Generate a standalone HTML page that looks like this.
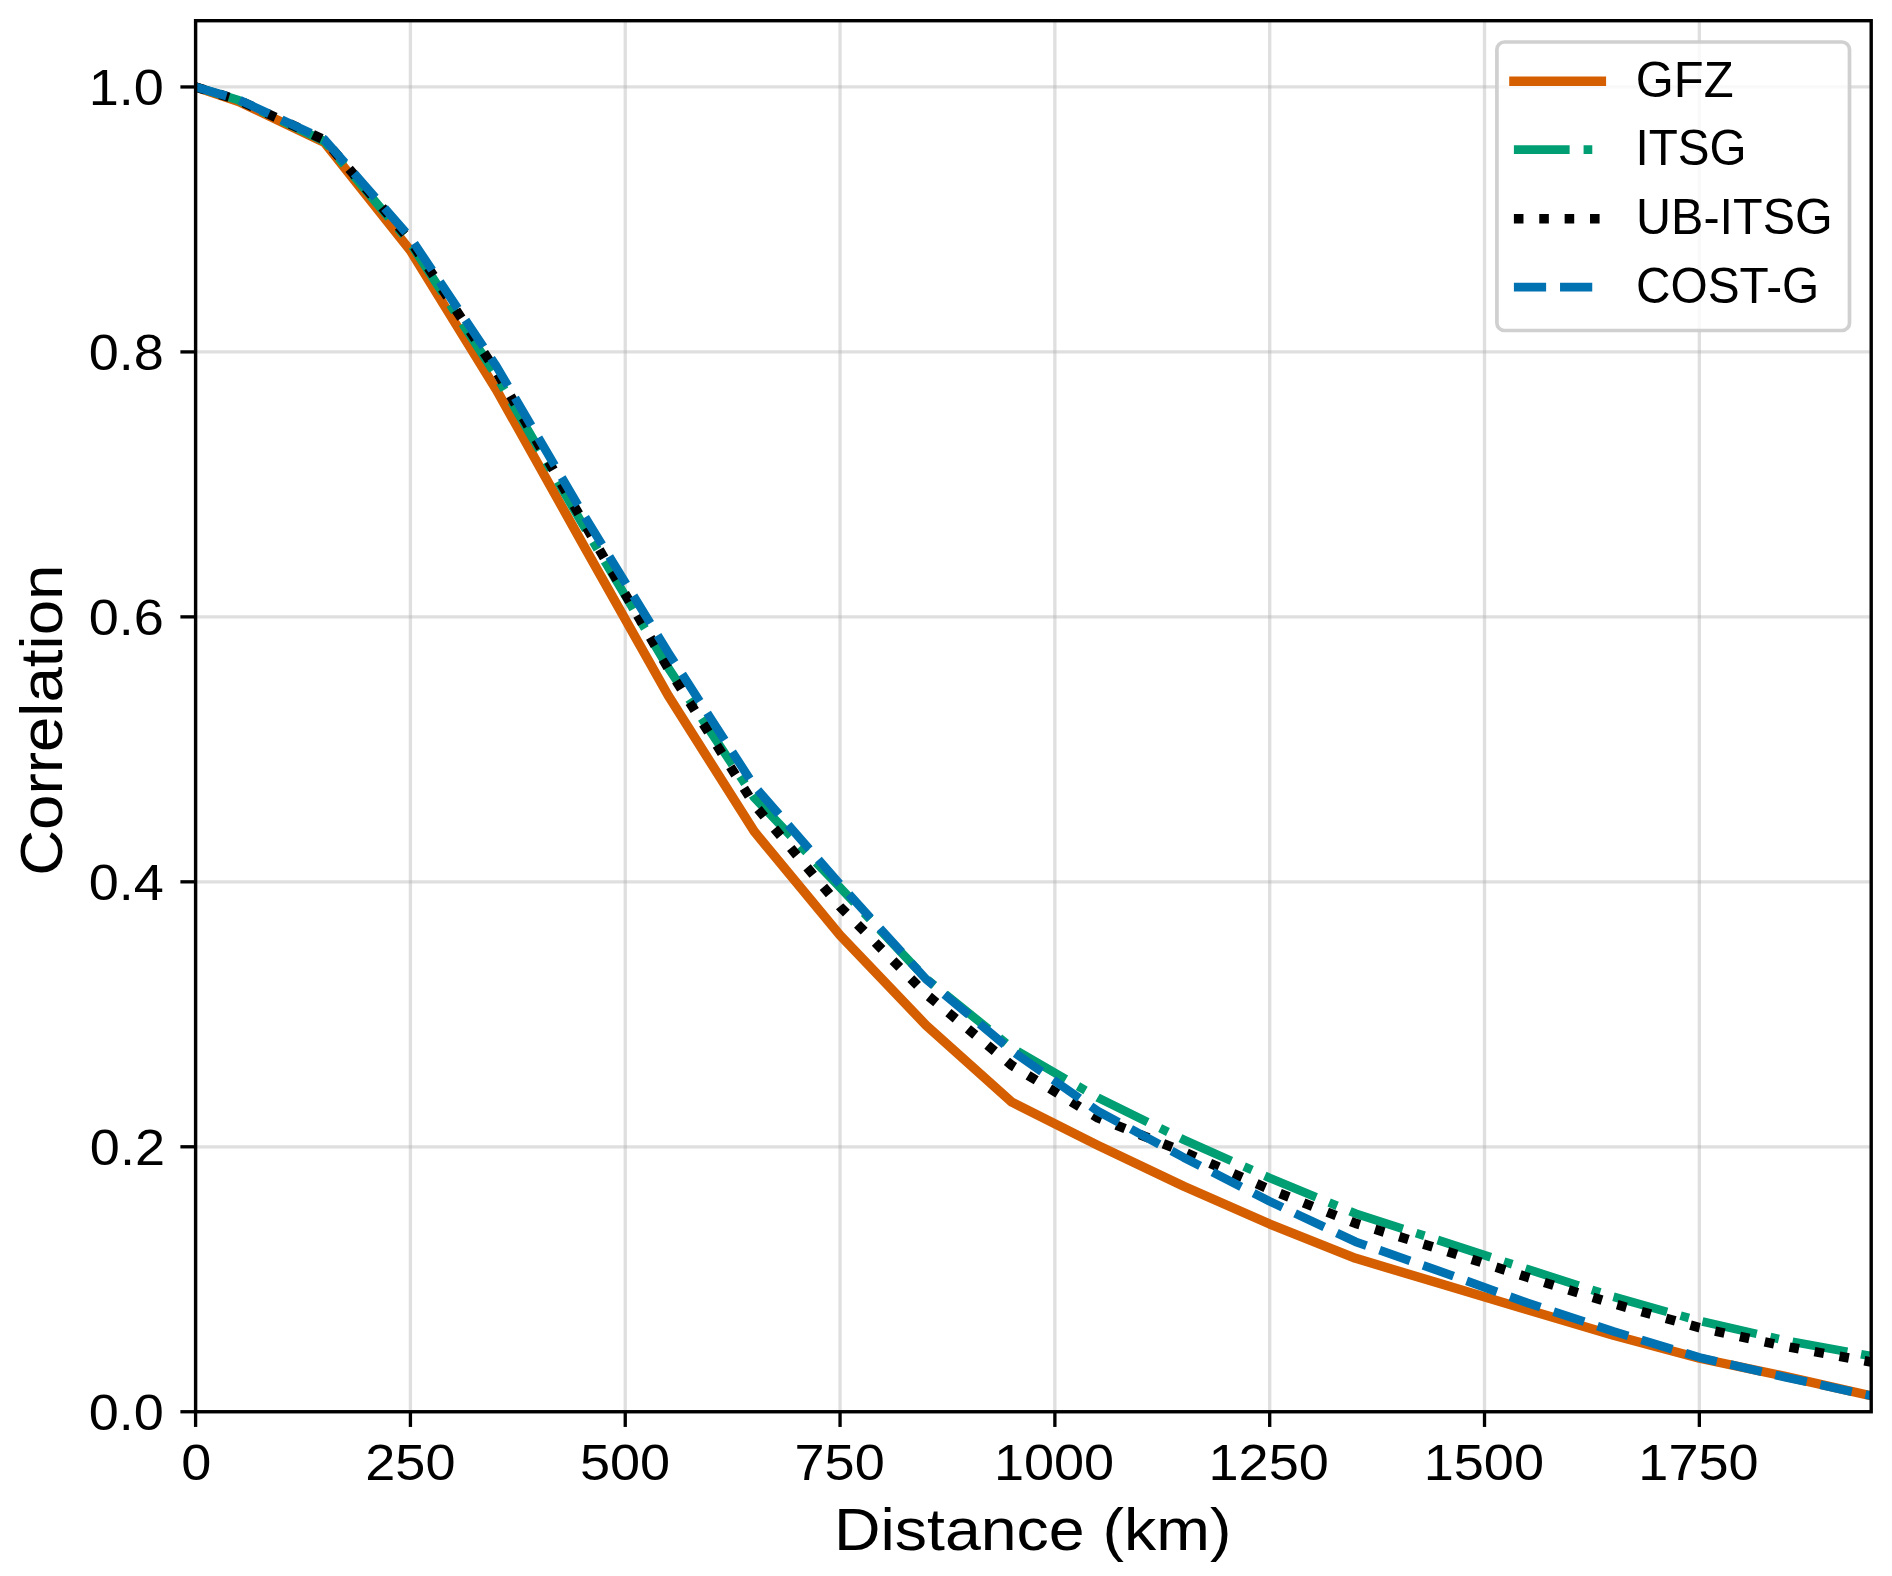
<!DOCTYPE html><html><head><meta charset="utf-8"><style>html,body{margin:0;padding:0;background:#fff;}svg{display:block;}text{font-family:"Liberation Sans",sans-serif;fill:#000;}</style></head><body>
<svg width="1892" height="1576" viewBox="0 0 1892 1576">
<rect x="0" y="0" width="1892" height="1576" fill="#fff"/>
<defs><clipPath id="ax"><rect x="195.60" y="20.70" width="1675.60" height="1391.05"/></clipPath></defs>
<g stroke="#b0b0b0" stroke-opacity="0.4" stroke-width="3.33" clip-path="url(#ax)">
<line x1="195.60" y1="20.7" x2="195.60" y2="1411.75"/>
<line x1="410.42" y1="20.7" x2="410.42" y2="1411.75"/>
<line x1="625.24" y1="20.7" x2="625.24" y2="1411.75"/>
<line x1="840.06" y1="20.7" x2="840.06" y2="1411.75"/>
<line x1="1054.88" y1="20.7" x2="1054.88" y2="1411.75"/>
<line x1="1269.70" y1="20.7" x2="1269.70" y2="1411.75"/>
<line x1="1484.52" y1="20.7" x2="1484.52" y2="1411.75"/>
<line x1="1699.34" y1="20.7" x2="1699.34" y2="1411.75"/>
<line x1="195.60" y1="1411.75" x2="1871.2" y2="1411.75"/>
<line x1="195.60" y1="1146.79" x2="1871.2" y2="1146.79"/>
<line x1="195.60" y1="881.83" x2="1871.2" y2="881.83"/>
<line x1="195.60" y1="616.87" x2="1871.2" y2="616.87"/>
<line x1="195.60" y1="351.91" x2="1871.2" y2="351.91"/>
<line x1="195.60" y1="86.95" x2="1871.2" y2="86.95"/>
</g>
<g fill="none" clip-path="url(#ax)" stroke-linejoin="round">
<path d="M195.60 86.95 L238.56 101.52 L324.49 142.59 L410.42 250.56 L496.35 389.67 L582.28 543.08 L668.21 695.56 L754.13 831.36 L840.06 935.35 L925.99 1025.17 L1011.92 1102.14 L1097.85 1145.33 L1183.77 1186.27 L1269.70 1224.03 L1355.63 1258.34 L1441.56 1284.04 L1527.49 1309.74 L1613.42 1335.18 L1699.34 1358.23 L1785.27 1376.38 L1871.20 1395.85" stroke="#d55e00" stroke-width="9.40" stroke-linecap="square"/>
<path d="M195.60 86.95 L238.56 100.20 L324.49 141.27 L410.42 243.28 L496.35 375.76 L582.28 523.60 L668.21 667.74 L754.13 797.57 L840.06 887.53 L925.99 978.54 L1011.92 1047.96 L1097.85 1097.64 L1183.77 1139.77 L1269.70 1177.92 L1355.63 1213.56 L1441.56 1241.25 L1527.49 1269.20 L1613.42 1296.76 L1699.34 1320.87 L1785.27 1340.34 L1871.20 1356.11" stroke="#009e73" stroke-width="8.71" stroke-dasharray="55.74,13.94,8.71,13.94"/>
<path d="M195.60 86.95 L238.56 100.20 L324.49 139.94 L410.42 240.63 L496.35 371.38 L582.28 520.03 L668.21 668.40 L754.13 804.46 L840.06 906.74 L925.99 994.04 L1011.92 1065.45 L1097.85 1117.91 L1183.77 1151.82 L1269.70 1189.45 L1355.63 1223.36 L1441.56 1249.59 L1527.49 1277.28 L1613.42 1303.65 L1699.34 1327.63 L1785.27 1346.30 L1871.20 1362.07" stroke="#000000" stroke-width="9.57" stroke-dasharray="9.57,15.80"/>
<path d="M195.60 86.95 L238.56 99.54 L324.49 139.54 L410.42 237.71 L496.35 366.09 L582.28 512.48 L668.21 652.51 L754.13 785.78 L840.06 884.48 L925.99 979.07 L1011.92 1050.87 L1097.85 1111.15 L1183.77 1157.52 L1269.70 1201.37 L1355.63 1241.78 L1441.56 1271.85 L1527.49 1302.85 L1613.42 1331.33 L1699.34 1357.43 L1785.27 1377.17 L1871.20 1395.85" stroke="#0072b2" stroke-width="8.71" stroke-dasharray="32.21,13.93"/>
</g>
<rect x="195.60" y="20.7" width="1675.60" height="1391.05" fill="none" stroke="#000" stroke-width="3.4" stroke-linejoin="miter"/>
<g stroke="#000" stroke-width="3.33">
<line x1="180.40" y1="1411.75" x2="195.60" y2="1411.75"/>
<line x1="180.40" y1="1146.79" x2="195.60" y2="1146.79"/>
<line x1="180.40" y1="881.83" x2="195.60" y2="881.83"/>
<line x1="180.40" y1="616.87" x2="195.60" y2="616.87"/>
<line x1="180.40" y1="351.91" x2="195.60" y2="351.91"/>
<line x1="180.40" y1="86.95" x2="195.60" y2="86.95"/>
<line x1="195.60" y1="1411.75" x2="195.60" y2="1426.95"/>
<line x1="410.42" y1="1411.75" x2="410.42" y2="1426.95"/>
<line x1="625.24" y1="1411.75" x2="625.24" y2="1426.95"/>
<line x1="840.06" y1="1411.75" x2="840.06" y2="1426.95"/>
<line x1="1054.88" y1="1411.75" x2="1054.88" y2="1426.95"/>
<line x1="1269.70" y1="1411.75" x2="1269.70" y2="1426.95"/>
<line x1="1484.52" y1="1411.75" x2="1484.52" y2="1426.95"/>
<line x1="1699.34" y1="1411.75" x2="1699.34" y2="1426.95"/>
</g>
<text font-size="49.60" transform="translate(88.77,1430.15) scale(1.0900,1.0250)">0.0</text>
<text font-size="49.60" transform="translate(89.86,1165.19) scale(1.0900,1.0250)">0.2</text>
<text font-size="49.60" transform="translate(88.77,900.23) scale(1.0900,1.0250)">0.4</text>
<text font-size="49.60" transform="translate(88.77,635.27) scale(1.0900,1.0250)">0.6</text>
<text font-size="49.60" transform="translate(88.77,370.31) scale(1.0900,1.0250)">0.8</text>
<text font-size="49.60" transform="translate(88.77,105.35) scale(1.0900,1.0250)">1.0</text>
<text font-size="49.60" transform="translate(181.19,1479.60) scale(1.0900,1.0250)">0</text>
<text font-size="49.60" transform="translate(365.30,1479.60) scale(1.0900,1.0250)">250</text>
<text font-size="49.60" transform="translate(579.92,1479.60) scale(1.0900,1.0250)">500</text>
<text font-size="49.60" transform="translate(794.55,1479.60) scale(1.0900,1.0250)">750</text>
<text font-size="49.60" transform="translate(993.91,1479.60) scale(1.0900,1.0250)">1000</text>
<text font-size="49.60" transform="translate(1208.54,1479.60) scale(1.0900,1.0250)">1250</text>
<text font-size="49.60" transform="translate(1423.71,1479.60) scale(1.0900,1.0250)">1500</text>
<text font-size="49.60" transform="translate(1638.33,1479.60) scale(1.0900,1.0250)">1750</text>
<text font-size="58.50" transform="translate(833.99,1549.90) scale(1.1017,1.0000)">Distance (km)</text>
<text font-size="58.50" transform="translate(62.00,875.87) rotate(-90) scale(1.0885,1.0000)">Correlation</text>
<rect x="1496.9" y="42.0" width="352.6" height="288.5" rx="7.5" ry="7.5" fill="#fff" fill-opacity="0.8" stroke="#cccccc" stroke-opacity="0.92" stroke-width="3.7"/>
<line x1="1513.9" y1="81.30" x2="1601.4" y2="81.30" stroke="#d55e00" stroke-width="9.40" stroke-linecap="square"/>
<line x1="1513.9" y1="149.70" x2="1601.4" y2="149.70" stroke="#009e73" stroke-width="8.71" stroke-dasharray="55.74,13.94,8.71,13.94"/>
<line x1="1513.9" y1="218.70" x2="1601.4" y2="218.70" stroke="#000" stroke-width="9.57" stroke-dasharray="9.57,15.80"/>
<line x1="1513.9" y1="287.20" x2="1601.4" y2="287.20" stroke="#0072b2" stroke-width="8.71" stroke-dasharray="32.21,13.93"/>
<text font-size="49.60" transform="translate(1635.74,96.60) scale(0.9872,1.0000)">GFZ</text>
<text font-size="49.60" transform="translate(1635.50,165.00) scale(0.9598,1.0000)">ITSG</text>
<text font-size="49.60" transform="translate(1636.09,234.00) scale(0.9777,1.0000)">UB-ITSG</text>
<text font-size="49.60" transform="translate(1636.01,302.50) scale(0.9639,1.0000)">COST-G</text>
</svg></body></html>
